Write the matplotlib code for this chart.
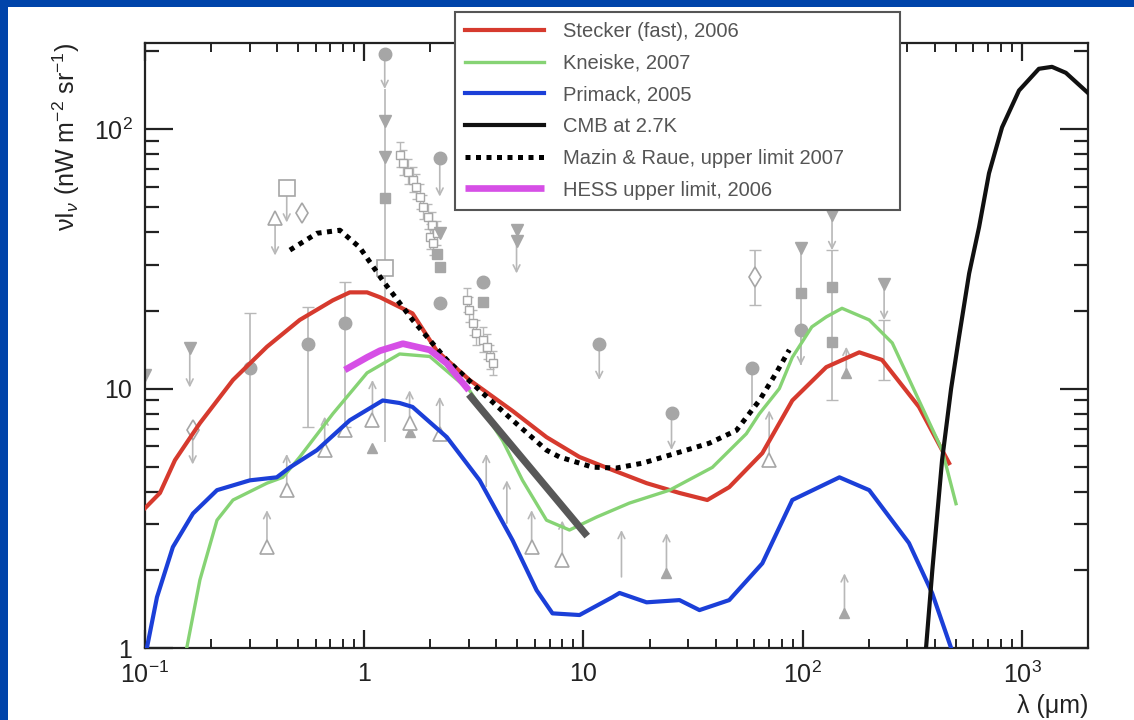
import numpy as np
import matplotlib.pyplot as plt
from matplotlib.patches import Rectangle
from matplotlib.ticker import LogLocator, FuncFormatter, NullFormatter

plt.rcParams['font.family'] = ['Liberation Sans', 'DejaVu Sans']
plt.rcParams['mathtext.fontset'] = 'custom'
plt.rcParams['mathtext.rm'] = 'Liberation Sans'
plt.rcParams['mathtext.it'] = 'Liberation Sans:italic'

# ---- EBL model curves (wavelength in um, nuI_nu in nW m^-2 sr^-1) ----
stecker_x = [0.1, 0.117, 0.137, 0.178, 0.252, 0.36, 0.508, 0.719, 0.859, 1.03, 1.18, 1.66,
             2.14, 3.02, 4.75, 6.78, 9.59, 13.6, 19.4, 27.4, 36.7, 46.2, 65.4, 89.6, 128,
             181, 230, 339, 465]
stecker_y = [3.46, 3.96, 5.3, 7.36, 10.8, 14.5, 18.4, 21.9, 23.5, 23.5, 22.5, 19.5,
             14.0, 10.8, 8.2, 6.5, 5.45, 4.85, 4.32, 3.96, 3.72, 4.17, 5.64, 9.0, 12.1,
             13.8, 12.9, 8.5, 5.16]

kneiske_x = [0.155, 0.178, 0.213, 0.252, 0.36, 0.425, 0.508, 0.719, 1.03, 1.45, 1.99, 3.02,
             4.28, 5.27, 6.78, 8.63, 11.5, 16.2, 24.7, 38.7, 55.3, 63.4, 78.2, 89.6, 110,
             128, 151, 201, 256, 339, 432, 500]
kneiske_y = [1.0, 1.83, 3.11, 3.72, 4.32, 4.55, 5.45, 8.0, 11.5, 13.6, 13.3, 9.85,
             6.3, 4.43, 3.11, 2.85, 3.2, 3.62, 4.06, 4.97, 6.7, 8.0, 10.0, 13.2, 17.3,
             18.9, 20.4, 18.4, 15.0, 9.0, 5.8, 3.6]

primack_x = [0.102, 0.1134, 0.134, 0.1655, 0.213, 0.301, 0.399, 0.458, 0.608, 0.859, 1.214,
             1.45, 1.66, 2.38, 3.36, 4.75, 6.11, 7.22, 9.59, 13.55, 14.6, 19.4, 27.4, 33.8,
             46.2, 65.4, 89.6, 147, 201, 305, 389, 475]
primack_y = [1.0, 1.57, 2.45, 3.3, 4.06, 4.43, 4.55, 4.97, 5.79, 7.55, 9.0,
             8.8, 8.5, 6.5, 4.43, 2.6, 1.67, 1.36, 1.34, 1.57, 1.63, 1.5, 1.53, 1.4,
             1.53, 2.12, 3.72, 4.55, 4.06, 2.54, 1.63, 1.0]

cmb_x = [365, 390, 432, 475, 516, 574, 637, 707, 811, 969, 1194, 1370, 1585, 2000]
cmb_y = [1.0, 2.0, 5.3, 10.0, 15.8, 27.8, 41.9, 67.6, 101.7, 141, 171, 174, 165, 138]

mazin_x = [0.458, 0.608, 0.774, 0.954, 1.214, 1.66, 2.38, 3.36, 4.75, 6.78, 7.78, 11.0,
           14.1, 18.6, 26.5, 37.5, 49.8, 63.4, 75.7, 86.8]
mazin_y = [34.2, 39.7, 40.8, 35.0, 26.1, 18.4, 12.9, 9.85, 7.55, 5.79, 5.45, 4.98,
           4.94, 5.16, 5.64, 6.16, 6.9, 9.0, 11.5, 14.1]

hess_x = [0.815, 1.03, 1.18, 1.50, 1.99, 2.38, 3.0]
hess_y = [11.8, 13.2, 14.0, 14.9, 14.1, 12.5, 9.85]

slope_x = [3.0, 10.4]
slope_y = [9.5, 2.7]

# ---- measurements (gray symbols) ----
circ_x = [0.301, 0.553, 0.815, 1.24, 2.21, 2.21, 3.47, 11.8, 25.2, 58.9, 98]
circ_y = [12.0, 14.9, 17.9, 195, 77.5, 21.3, 25.7, 14.9, 8.03, 12.0, 16.8]

tdn_x = [0.1, 0.16, 1.24, 1.24, 2.21, 4.95, 4.95, 98, 136, 235]
tdn_y = [11.3, 14.3, 108, 78.3, 39.7, 40.8, 37.0, 34.8, 46.6, 25.4]

sq_x = [1.24, 2.14, 2.21, 3.47, 98, 136, 136]
sq_y = [54.2, 33.0, 29.4, 21.5, 23.3, 24.7, 15.1]

tup_x = [1.09, 1.61, 23.9, 155, 158]
tup_y = [5.9, 6.8, 1.94, 1.36, 11.5]

otu_x = [0.36, 0.443, 0.66, 0.815, 1.09, 1.61, 2.21, 5.8, 8.0, 70.3, 0.392]
otu_y = [2.45, 4.06, 5.8, 6.9, 7.55, 7.35, 6.7, 2.45, 2.18, 5.3, 45.3]

osq_x = [0.443, 1.24]
osq_y = [59.2, 29.3]

odi_x = [0.165, 0.52, 60.3]
odi_y = [6.9, 47.5, 26.9]

nir_x = [1.45, 1.50, 1.58, 1.66, 1.73, 1.79, 1.85, 1.95, 1.99, 2.03, 2.05, 2.14,
         2.93, 3.02, 3.12, 3.25, 3.47, 3.62, 3.73, 3.85]
nir_y = [79.4, 74.0, 68.3, 63.6, 59.8, 54.7, 50.0, 45.8, 38.4, 42.7, 36.4, 39.7,
         21.9, 20.1, 17.9, 16.4, 15.4, 14.5, 13.2, 12.5]

err_x = [0.301, 0.553, 0.815, 60.3, 136, 235]
err_lo = [4.43, 7.1, 7.1, 21.0, 9.0, 10.8]
err_hi = [19.5, 20.6, 25.8, 34.2, 34.2, 18.4]

bar_x = [1.24, 98, 58.9]
bar_lo = [6.2, 12.3, 8.5]
bar_hi = [143, 34.8, 12.0]

down_x = [0.16, 0.165, 0.392, 0.443, 1.24, 2.21, 4.95, 11.8, 25.2, 98, 136, 235]
down_from = [14.3, 6.9, 45.3, 59.2, 195, 77.5, 37.0, 14.9, 8.03, 16.8, 46.6, 25.4]
down_to = [10.1, 5.1, 32.6, 43.7, 143, 55, 27.8, 10.8, 5.8, 12.3, 34.2, 18.4]

up_x = [0.36, 0.443, 0.66, 1.09, 1.61, 2.21, 3.6, 4.47, 5.8, 8.0, 14.9, 23.9, 70.3, 155, 158]
up_from = [2.45, 4.06, 5.8, 7.55, 7.35, 6.7, 4.2, 3.03, 2.45, 2.18, 1.88, 1.94, 5.3, 1.36, 11.5]
up_to = [3.4, 5.6, 7.8, 10.8, 9.85, 9.3, 5.6, 4.43, 3.4, 3.1, 2.85, 2.77, 8.24, 1.94, 14.5]

W, H = 1134, 720
fig = plt.figure(figsize=(W / 100, H / 100), dpi=100, facecolor='#0044aa')
fig.patches.append(Rectangle((8 / W, 0), 1, 1 - 7 / H, transform=fig.transFigure,
                             facecolor='white', edgecolor='none', zorder=-10))

ax = fig.add_axes([145 / W, 72 / H, (1088 - 145) / W, (648 - 43) / H])
ax.set_xscale('log')
ax.set_yscale('log')
ax.set_xlim(0.1, 2000)
ax.set_ylim(1, 215)

gray = '#a6a6a6'
lgray = '#b8b8b8'

# error bars and plain bars
ax.errorbar(err_x, [np.sqrt(a * b) for a, b in zip(err_lo, err_hi)],
            yerr=[[np.sqrt(a * b) - a for a, b in zip(err_lo, err_hi)],
                  [b - np.sqrt(a * b) for a, b in zip(err_lo, err_hi)]],
            fmt='none', ecolor=lgray, elinewidth=1.2, capsize=4, zorder=1)
ax.vlines(bar_x, bar_lo, bar_hi, color=lgray, lw=1.2, zorder=1)
ax.errorbar(nir_x, nir_y, yerr=[[v * 0.1 for v in nir_y], [v * 0.12 for v in nir_y]],
            fmt='s', ms=6, mfc='white', mec=gray, ecolor=lgray, elinewidth=1,
            capsize=3, zorder=1)

for x, a, b in zip(down_x, down_from, down_to):
    ax.annotate('', xy=(x, b), xytext=(x, a),
                arrowprops=dict(arrowstyle='->', color=lgray, lw=1.2,
                                mutation_scale=12, shrinkA=0, shrinkB=0), zorder=1)
for x, a, b in zip(up_x, up_from, up_to):
    ax.annotate('', xy=(x, b), xytext=(x, a),
                arrowprops=dict(arrowstyle='->', color=lgray, lw=1.2,
                                mutation_scale=12, shrinkA=0, shrinkB=0), zorder=1)

ax.plot(circ_x, circ_y, 'o', ms=9, color=gray, mec=gray, zorder=2)
ax.plot(tdn_x, tdn_y, 'v', ms=9, color=gray, mec=gray, zorder=2)
ax.plot(sq_x, sq_y, 's', ms=7, color=gray, mec=gray, zorder=2)
ax.plot(tup_x, tup_y, '^', ms=7, color=gray, mec=gray, zorder=2)
ax.plot(otu_x, otu_y, '^', ms=10, mfc='white', mec=gray, mew=1.2, zorder=2)
ax.plot(osq_x, osq_y, 's', ms=11, mfc='white', mec=gray, mew=1.2, zorder=2)
ax.plot(odi_x, odi_y, 'd', ms=10, mfc='white', mec=gray, mew=1.2, zorder=2)

# model curves
ax.plot(stecker_x, stecker_y, color='#d63a2e', lw=3.0, label='Stecker (fast), 2006', zorder=4)
ax.plot(kneiske_x, kneiske_y, color='#86d374', lw=2.4, label='Kneiske, 2007', zorder=4)
ax.plot(primack_x, primack_y, color='#1b3fd8', lw=3.0, label='Primack, 2005', zorder=4)
ax.plot(cmb_x, cmb_y, color='#111111', lw=3.0, label='CMB at 2.7K', zorder=4)
ax.plot(mazin_x, mazin_y, color='black', lw=3.6, ls=(0, (1, 1.1)), dash_capstyle='butt',
        label='Mazin & Raue, upper limit 2007', zorder=5)
ax.plot(hess_x, hess_y, color='#d64fe6', lw=4.8, solid_capstyle='butt',
        label='HESS upper limit, 2006', zorder=5)
ax.plot(slope_x, slope_y, color='#585858', lw=5.2, solid_capstyle='butt', zorder=5)

# axes styling
for s in ax.spines.values():
    s.set_linewidth(1.6)
    s.set_color('#222222')

ax.xaxis.set_major_locator(LogLocator(base=10, numticks=10))
ax.xaxis.set_minor_locator(LogLocator(base=10, subs=np.arange(2, 10), numticks=20))
ax.yaxis.set_major_locator(LogLocator(base=10, numticks=10))
ax.yaxis.set_minor_locator(LogLocator(base=10, subs=np.arange(2, 10), numticks=20))


def tick_fmt(v, pos):
    e = int(round(np.log10(v)))
    if e == 0:
        return '1'
    if e == 1:
        return '10'
    return r'$10^{%d}$' % e


ax.xaxis.set_major_formatter(FuncFormatter(tick_fmt))
ax.yaxis.set_major_formatter(FuncFormatter(tick_fmt))
ax.xaxis.set_minor_formatter(NullFormatter())
ax.yaxis.set_minor_formatter(NullFormatter())

ax.tick_params(which='both', direction='in', top=True, right=True, colors='#222222',
               labelsize=18)
ax.tick_params(axis='y', which='major', length=20, width=1.6, pad=9)
ax.tick_params(axis='y', which='minor', length=10, width=1.6)
ax.tick_params(axis='x', which='major', length=13, width=1.6, pad=10)
ax.tick_params(axis='x', which='minor', length=6.5, width=1.4)

ax.set_ylabel(r'νI$_\nu$ (nW m$^{-2}$ sr$^{-1}$)', loc='top', fontsize=18,
              color='#222222', labelpad=8)
ax.set_xlabel('λ (μm)', loc='right', fontsize=18, color='#222222', labelpad=4)

leg = ax.legend(loc='upper left', bbox_to_anchor=(455 / W, 1 - 12 / H - 0.01, 445 / W, 0.01),
                bbox_transform=fig.transFigure, mode='expand', fontsize=14.5,
                handlelength=3.9, handletextpad=0.95, labelspacing=0.63,
                borderpad=0.5, borderaxespad=0, fancybox=False, framealpha=1,
                edgecolor='#555555')
leg.get_frame().set_linewidth(1.5)
for t in leg.get_texts():
    t.set_color('#555555')

fig.savefig('out.png', dpi=100, facecolor=fig.get_facecolor())
